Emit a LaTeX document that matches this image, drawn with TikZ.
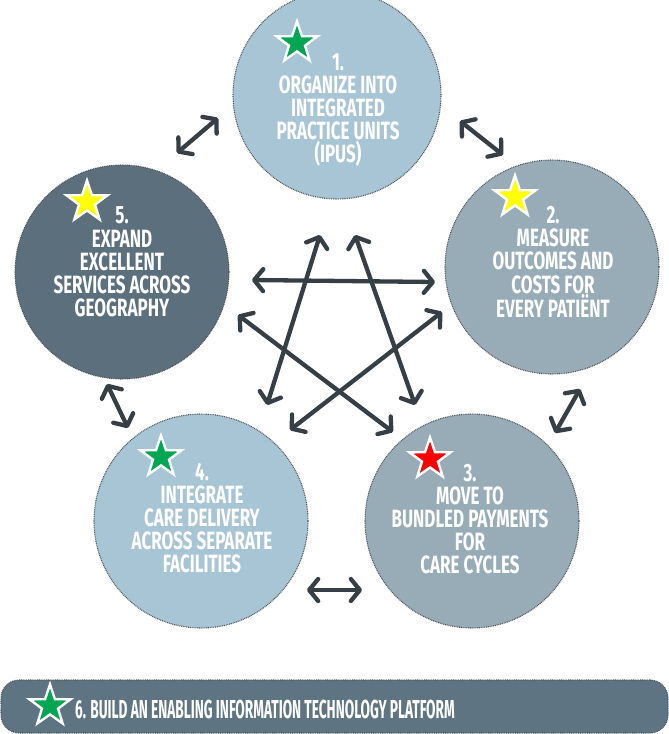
\documentclass[tikz,border=0pt]{standalone}
\usepackage{fontspec}
\newfontfamily\bebas{Fira Sans}[FakeStretch=0.68]
\newfontfamily\bebasnarrow{Fira Sans}[FakeStretch=0.525]
\usetikzlibrary{arrows.meta,shapes.geometric}
\definecolor{lightc}{HTML}{A7C5D4}
\definecolor{midc}{HTML}{97ACB6}
\definecolor{darkc}{HTML}{5B6F7C}
\definecolor{barc}{HTML}{5F7482}
\definecolor{arrowc}{HTML}{363F46}
\definecolor{rimc}{HTML}{4E5458}
\definecolor{stargreen}{HTML}{00A651}
\definecolor{staryellow}{HTML}{FFFF00}
\definecolor{starred}{HTML}{FF0000}
\tikzset{
  circ/.style={circle, minimum size=214pt, inner sep=0pt, draw=rimc, line width=1.1pt, dash pattern=on 0.9pt off 0.9pt},
  label/.style={text=white, align=center, font=\bebas\bfseries\fontsize{25}{23.2}\selectfont, inner sep=0pt},
  starmark/.style={star, star points=5, star point ratio=2.55, minimum size=43pt, inner sep=0pt, draw=white, line width=2.4pt},
  link/.style={draw=arrowc, line width=4.3pt, line cap=round,
    {Straight Barb[length=9pt,width=22pt,round]}-{Straight Barb[length=9pt,width=22pt,round]}}
}
\begin{document}
\begin{tikzpicture}[x=1pt,y=-1pt]
\useasboundingbox (0,0) rectangle (669,734);
\fill[white] (0,0) rectangle (669,734);

% circles
\node[circ, fill=lightc, minimum size=208pt] (c1) at (337,95) {};
\node[circ, fill=midc] (c2) at (552,267) {};
\node[circ, fill=midc] (c3) at (472,521) {};
\node[circ, fill=lightc] (c4) at (201,521) {};
\node[circ, fill=darkc] (c5) at (122,272) {};

% texts
\node[label] (t1) at (338,110) {1.\\ORGANIZE INTO\\INTEGRATED\\PRACTICE UNITS\\(IPUS)};
\node[label] (t2) at (553,262) {2.\\MEASURE\\OUTCOMES AND\\COSTS FOR\\EVERY PATIËNT};
\node[label] (t3) at (470,519) {3.\\MOVE TO\\BUNDLED PAYMENTS\\FOR\\CARE CYCLES};
\node[label] (t4) at (202,518) {4.\\INTEGRATE\\CARE DELIVERY\\ACROSS SEPARATE\\FACILITIES};
\node[label] (t5) at (122,262) {5.\\EXPAND\\EXCELLENT\\SERVICES ACROSS\\GEOGRAPHY};

% stars
\node[starmark, fill=stargreen] (s1) at (297,43) {};
\node[starmark, fill=staryellow] (s2) at (515,197) {};
\node[starmark, fill=starred] (s3) at (430,459) {};
\node[starmark, fill=stargreen] (s4) at (161,457) {};
\node[starmark, fill=staryellow] (s5) at (87,202) {};

% outer arrows
\coordinate (a15a) at (177,153); \coordinate (a15b) at (218,118);
\coordinate (a12a) at (460,121); \coordinate (a12b) at (503,155);
\coordinate (a23a) at (580,389); \coordinate (a23b) at (555,433);
\coordinate (a34a) at (307,590); \coordinate (a34b) at (362,590);
\coordinate (a45a) at (107,384); \coordinate (a45b) at (128,428);
\draw[link] (a15a) -- (a15b);
\draw[link] (a12a) -- (a12b);
\draw[link] (a23a) -- (a23b);
\draw[link] (a34a) -- (a34b);
\draw[link] (a45a) -- (a45b);

% star arrows
\coordinate (p1) at (320,235); \coordinate (q1) at (267,405);
\coordinate (p2) at (355,235); \coordinate (q2) at (415,405);
\coordinate (p3) at (252,280); \coordinate (q3) at (435,282);
\coordinate (p4) at (238,315); \coordinate (q4) at (393,432);
\coordinate (p5) at (442,312); \coordinate (q5) at (290,430);
\draw[link] (p1) -- (q1);
\draw[link] (p2) -- (q2);
\draw[link] (p3) -- (q3);
\draw[link] (p4) -- (q4);
\draw[link] (p5) -- (q5);

% bottom bar
\node[draw=rimc, line width=1.1pt, dash pattern=on 0.9pt off 0.9pt, fill=barc, rounded corners=18pt,
  minimum width=667pt, minimum height=53pt, inner sep=0pt] (bar) at (334.5,706.5) {};
\node[label, anchor=west, font=\bebasnarrow\bfseries\fontsize{26}{26}\selectfont] (t6) at (75,709) {6. BUILD AN ENABLING INFORMATION TECHNOLOGY PLATFORM};
\node[starmark, fill=stargreen] (s6) at (50,706) {};
\end{tikzpicture}
\end{document}
